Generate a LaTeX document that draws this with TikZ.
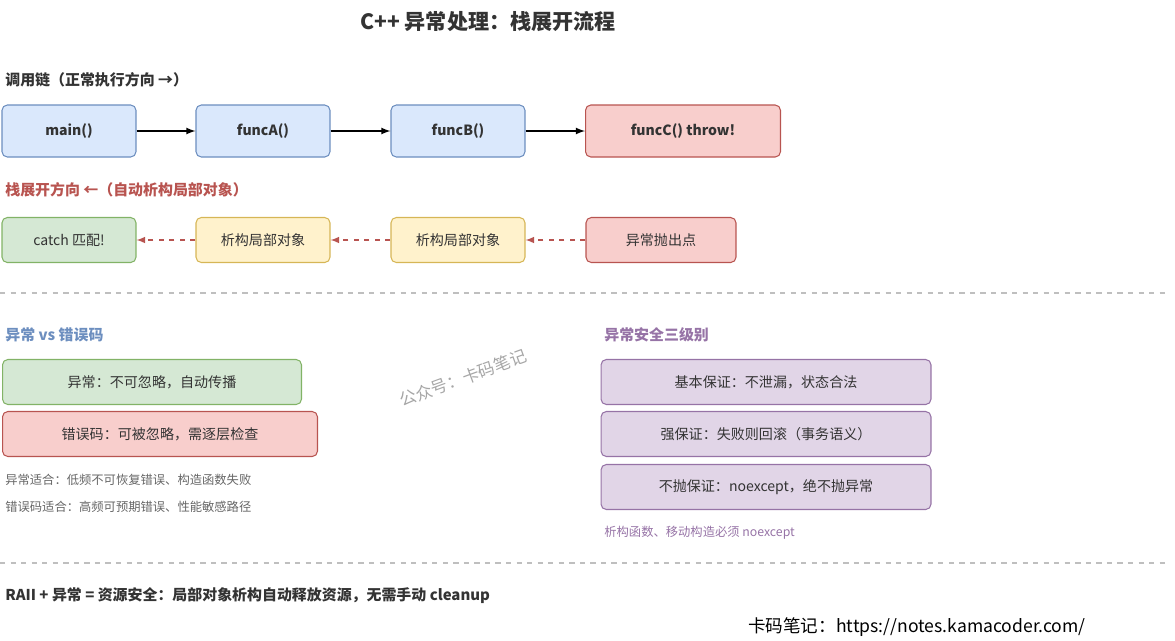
\documentclass[tikz,border=0pt]{standalone}
\usepackage{fontspec}
\setmainfont{Noto Sans CJK SC}
\usetikzlibrary{positioning}
\definecolor{bluefill}{HTML}{DAE8FC}\definecolor{bluedraw}{HTML}{6C8EBF}
\definecolor{redfill}{HTML}{F8CECC}\definecolor{reddraw}{HTML}{B85450}
\definecolor{greenfill}{HTML}{D5E8D4}\definecolor{greendraw}{HTML}{82B366}
\definecolor{yellowfill}{HTML}{FFF2CC}\definecolor{yellowdraw}{HTML}{D6B656}
\definecolor{purplefill}{HTML}{E1D5E7}\definecolor{purpledraw}{HTML}{9673A6}
\definecolor{txt}{HTML}{333333}
\begin{document}
\begin{tikzpicture}[
  x=0.02cm, y=-0.02cm,
  every node/.style = {text=txt},
  block/.style = {
    draw,
    shape=rectangle,
    rounded corners=3pt,
    line width=0.6pt,
    minimum height=1.04cm,
    font=\fontsize{8}{9}\selectfont,
    align=center
  },
  call/.style = {block, fill=bluefill, draw=bluedraw, minimum width=2.68cm, font=\fontsize{8}{9}\selectfont\bfseries},
  unwind/.style = {block, fill=yellowfill, draw=yellowdraw, minimum width=2.68cm, minimum height=0.9cm},
  safe/.style = {block, fill=purplefill, draw=purpledraw, minimum width=6.6cm, minimum height=0.9cm},
  heading/.style = {anchor=west, inner sep=0pt, font=\fontsize{8.5}{10}\selectfont\bfseries},
  note/.style = {anchor=west, inner sep=0pt, font=\fontsize{7}{8}\selectfont, text=gray!80!black},
  sep/.style = {draw=gray!50, dashed, line width=0.6pt},
]
  \useasboundingbox (0,0) rectangle (1175,640);
  \node (title) at (488,22) {\fontsize{12}{14}\selectfont\bfseries C++ 异常处理：栈展开流程};

  % call chain
  \node (chainhead)[heading] at (5,80) {调用链（正常执行方向 →）};
  \node (main)[call] at (69,131) {main()};
  \node (funcA)[call] at (263,131) {funcA()};
  \node (funcB)[call] at (458,131) {funcB()};
  \node (funcC)[call, fill=redfill, draw=reddraw, minimum width=3.9cm] at (683,131) {funcC() throw!};
  \draw[-latex, line width=0.8pt] (main) -- (funcA);
  \draw[-latex, line width=0.8pt] (funcA) -- (funcB);
  \draw[-latex, line width=0.8pt] (funcB) -- (funcC);

  % unwinding
  \node (unwindhead)[heading, text=reddraw] at (5,190) {栈展开方向 ←（自动析构局部对象）};
  \node (catch)[unwind, fill=greenfill, draw=greendraw] at (69,240) {catch 匹配!};
  \node (dtorA)[unwind] at (263,240) {析构局部对象};
  \node (dtorB)[unwind] at (458,240) {析构局部对象};
  \node (throwpt)[unwind, fill=redfill, draw=reddraw, minimum width=3cm] at (661,240) {异常抛出点};
  \draw[-latex, dashed, draw=reddraw, line width=0.7pt] (throwpt) -- (dtorB);
  \draw[-latex, dashed, draw=reddraw, line width=0.7pt] (dtorB) -- (dtorA);
  \draw[-latex, dashed, draw=reddraw, line width=0.7pt] (dtorA) -- (catch);

  \draw[sep] (0,293) -- (1168,293);

  % exceptions vs error codes
  \node (cmphead)[heading, text=bluedraw] at (5,335) {异常 vs 错误码};
  \node (exc)[block, fill=greenfill, draw=greendraw, minimum width=5.98cm, minimum height=0.9cm] at (152,382) {异常：不可忽略，自动传播};
  \node (err)[block, fill=redfill, draw=reddraw, minimum width=6.3cm, minimum height=0.9cm] at (160,434) {错误码：可被忽略，需逐层检查};
  \node (excuse)[note] at (5,480) {异常适合：低频不可恢复错误、构造函数失败};
  \node (erruse)[note] at (5,507) {错误码适合：高频可预期错误、性能敏感路径};

  % exception safety
  \node (safehead)[heading, text=purpledraw] at (604,335) {异常安全三级别};
  \node (basic)[safe] at (766,382) {基本保证：不泄漏，状态合法};
  \node (strong)[safe] at (766,434) {强保证：失败则回滚（事务语义）};
  \node (nothrow)[safe] at (766,487) {不抛保证：noexcept，绝不抛异常};
  \node (safenote)[note, text=purpledraw] at (604,533) {析构函数、移动构造必须 noexcept};

  \node (wm)[rotate=20, text=gray!70, font=\fontsize{9.5}{11}\selectfont] at (463,378) {公众号：卡码笔记};

  \draw[sep] (0,563) -- (1168,563);

  \node (raii)[heading] at (5,596) {RAII + 异常 = 资源安全：局部对象析构自动释放资源，无需手动 cleanup};
  \node (site)[font=\fontsize{10}{12}\selectfont, text=black] at (917,627) {卡码笔记：https://notes.kamacoder.com/};
\end{tikzpicture}
\end{document}
